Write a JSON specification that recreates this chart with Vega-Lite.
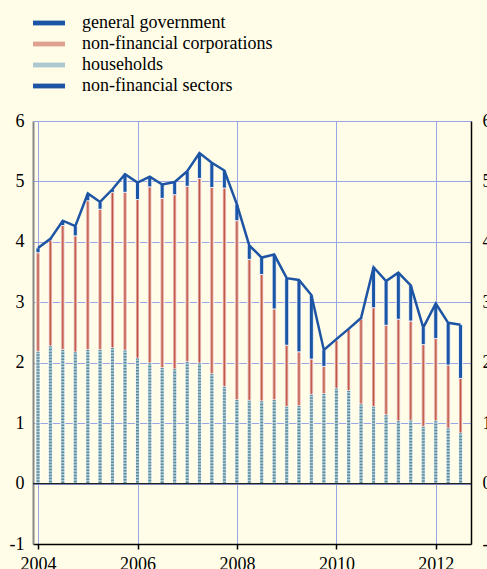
{
  "$schema": "https://vega.github.io/schema/vega-lite/v6.json",
  "width": 438,
  "height": 423,
  "autosize": {"type": "none"},
  "padding": {"left": 33, "top": 121, "right": 16, "bottom": 25},
  "background": "#fffde7",
  "config": {
    "view": {"stroke": null},
    "font": "'Liberation Serif', 'Times New Roman', serif",
    "axis": {"labelFont": "'Liberation Serif', 'Times New Roman', serif", "labelFontSize": 18, "labelColor": "#000"},
    "legend": {"labelFont": "'Liberation Serif', 'Times New Roman', serif", "labelFontSize": 18, "labelColor": "#000", "labelLimit": 0}
  },
  "data": {
    "values": [
      {"date": "2004-01-01", "households": 2.19, "nfc_top": 3.82, "total": 3.90},
      {"date": "2004-04-01", "households": 2.28, "nfc_top": 4.03, "total": 4.05},
      {"date": "2004-07-01", "households": 2.22, "nfc_top": 4.27, "total": 4.35},
      {"date": "2004-10-01", "households": 2.18, "nfc_top": 4.10, "total": 4.26},
      {"date": "2005-01-01", "households": 2.22, "nfc_top": 4.68, "total": 4.80},
      {"date": "2005-04-01", "households": 2.22, "nfc_top": 4.54, "total": 4.66},
      {"date": "2005-07-01", "households": 2.25, "nfc_top": 4.82, "total": 4.87},
      {"date": "2005-10-01", "households": 2.21, "nfc_top": 4.82, "total": 5.12},
      {"date": "2006-01-01", "households": 2.08, "nfc_top": 4.70, "total": 4.98},
      {"date": "2006-04-01", "households": 2.00, "nfc_top": 4.91, "total": 5.08},
      {"date": "2006-07-01", "households": 1.92, "nfc_top": 4.72, "total": 4.95},
      {"date": "2006-10-01", "households": 1.90, "nfc_top": 4.78, "total": 4.99},
      {"date": "2007-01-01", "households": 2.02, "nfc_top": 4.92, "total": 5.17},
      {"date": "2007-04-01", "households": 2.00, "nfc_top": 5.05, "total": 5.47},
      {"date": "2007-07-01", "households": 1.82, "nfc_top": 4.90, "total": 5.31},
      {"date": "2007-10-01", "households": 1.61, "nfc_top": 4.89, "total": 5.18},
      {"date": "2008-01-01", "households": 1.39, "nfc_top": 4.35, "total": 4.62},
      {"date": "2008-04-01", "households": 1.38, "nfc_top": 3.71, "total": 3.94},
      {"date": "2008-07-01", "households": 1.37, "nfc_top": 3.46, "total": 3.74},
      {"date": "2008-10-01", "households": 1.39, "nfc_top": 2.89, "total": 3.79},
      {"date": "2009-01-01", "households": 1.28, "nfc_top": 2.29, "total": 3.40},
      {"date": "2009-04-01", "households": 1.29, "nfc_top": 2.18, "total": 3.37},
      {"date": "2009-07-01", "households": 1.48, "nfc_top": 2.06, "total": 3.12},
      {"date": "2009-10-01", "households": 1.49, "nfc_top": 1.94, "total": 2.21},
      {"date": "2010-01-01", "households": 1.58, "nfc_top": 2.37, "total": 2.39},
      {"date": "2010-04-01", "households": 1.54, "nfc_top": 2.55, "total": 2.56},
      {"date": "2010-07-01", "households": 1.32, "nfc_top": 2.72, "total": 2.74},
      {"date": "2010-10-01", "households": 1.28, "nfc_top": 2.91, "total": 3.58},
      {"date": "2011-01-01", "households": 1.14, "nfc_top": 2.62, "total": 3.35},
      {"date": "2011-04-01", "households": 1.04, "nfc_top": 2.72, "total": 3.49},
      {"date": "2011-07-01", "households": 1.05, "nfc_top": 2.69, "total": 3.28},
      {"date": "2011-10-01", "households": 0.95, "nfc_top": 2.30, "total": 2.58},
      {"date": "2012-01-01", "households": 1.04, "nfc_top": 2.40, "total": 2.98},
      {"date": "2012-04-01", "households": 0.92, "nfc_top": 1.96, "total": 2.66},
      {"date": "2012-07-01", "households": 0.84, "nfc_top": 1.74, "total": 2.63}
    ]
  },
  "layer": [
    {
      "mark": {"type": "bar", "size": 4, "stroke": "white", "strokeWidth": 0.8},
      "encoding": {
        "x": {"field": "date", "type": "temporal",
          "scale": {"type": "utc", "domain": [{"year": 2004, "month": 1, "date": 1, "utc": true}, {"year": 2012, "month": 8, "date": 10, "utc": true}]},
          "axis": {"title": null, "orient": "bottom",
            "values": [{"year": 2004, "utc": true}, {"year": 2006, "utc": true}, {"year": 2008, "utc": true}, {"year": 2010, "utc": true}, {"year": 2012, "utc": true}],
            "format": "%Y", "domainColor": "#000", "domainWidth": 1.5, "tickColor": "#000", "tickWidth": 1.5, "tickSize": 5,
            "labelPadding": 6, "labelFlush": false, "labelOverlap": false, "grid": true, "gridColor": "#98a6e8", "gridWidth": 1}},
        "y": {"field": "households", "type": "quantitative",
          "scale": {"domain": [-1, 6], "nice": false, "zero": false},
          "axis": {"title": null, "orient": "left", "values": [-1, 0, 1, 2, 3, 4, 5, 6],
            "labelExpr": "replace(datum.label, '\u2212', '-')",
            "domainColor": "#888", "domainWidth": 2, "ticks": false, "labelPadding": 9,
            "grid": true, "gridColor": "#98a6e8", "gridWidth": 1}},
        "y2": {"datum": 0},
        "color": {"datum": "households",
          "scale": {"domain": ["general government", "non-financial corporations", "households", "non-financial sectors"],
            "range": ["#1a55a6", "#dfa291", "#adc8d1", "#1e54a4"]},
          "legend": {"title": null, "orient": "none", "legendX": 7, "legendY": -107,
            "symbolType": "M-2,-0.3H2V0.3H-2Z", "symbolSize": 256, "symbolStrokeWidth": 0,
            "labelOffset": 24, "rowPadding": 3, "padding": 0,
            "encode": {"symbols": {"update": {"fill": {"scale": "color", "field": "value"}, "stroke": {"value": "transparent"}, "opacity": {"value": 1}}}}}}
      }
    },
    {
      "mark": {"type": "rule", "color": "#5d8fa0", "strokeWidth": 3, "strokeDash": [1.5, 1.5]},
      "encoding": {
        "x": {"field": "date", "type": "temporal",
          "scale": {"type": "utc", "domain": [{"year": 2004, "month": 1, "date": 1, "utc": true}, {"year": 2012, "month": 8, "date": 10, "utc": true}]},
          "axis": {"title": null, "orient": "bottom",
            "values": [{"year": 2004, "utc": true}, {"year": 2006, "utc": true}, {"year": 2008, "utc": true}, {"year": 2010, "utc": true}, {"year": 2012, "utc": true}],
            "format": "%Y", "domainColor": "#000", "domainWidth": 1.5, "tickColor": "#000", "tickWidth": 1.5, "tickSize": 5,
            "labelPadding": 6, "labelFlush": false, "labelOverlap": false, "grid": true, "gridColor": "#98a6e8", "gridWidth": 1}},
        "y": {"field": "households", "type": "quantitative", "scale": {"domain": [-1, 6], "nice": false, "zero": false}, "axis": null},
        "y2": {"datum": 0}
      }
    },
    {
      "mark": {"type": "bar", "size": 4, "stroke": "white", "strokeWidth": 0.8},
      "encoding": {
        "x": {"field": "date", "type": "temporal",
          "scale": {"type": "utc", "domain": [{"year": 2004, "month": 1, "date": 1, "utc": true}, {"year": 2012, "month": 8, "date": 10, "utc": true}]},
          "axis": {"title": null, "orient": "bottom",
            "values": [{"year": 2004, "utc": true}, {"year": 2006, "utc": true}, {"year": 2008, "utc": true}, {"year": 2010, "utc": true}, {"year": 2012, "utc": true}],
            "format": "%Y", "domainColor": "#000", "domainWidth": 1.5, "tickColor": "#000", "tickWidth": 1.5, "tickSize": 5,
            "labelPadding": 6, "labelFlush": false, "labelOverlap": false, "grid": true, "gridColor": "#98a6e8", "gridWidth": 1}},
        "y": {"field": "households", "type": "quantitative", "scale": {"domain": [-1, 6], "nice": false, "zero": false}, "axis": null},
        "y2": {"field": "nfc_top"},
        "color": {"datum": "non-financial corporations",
          "scale": {"domain": ["general government", "non-financial corporations", "households", "non-financial sectors"],
            "range": ["#1a55a6", "#dfa291", "#adc8d1", "#1e54a4"]},
          "legend": null}
      }
    },
    {
      "mark": {"type": "rule", "color": "#b8453a", "strokeWidth": 0.9},
      "encoding": {
        "x": {"field": "date", "type": "temporal",
          "scale": {"type": "utc", "domain": [{"year": 2004, "month": 1, "date": 1, "utc": true}, {"year": 2012, "month": 8, "date": 10, "utc": true}]},
          "axis": {"title": null, "orient": "bottom",
            "values": [{"year": 2004, "utc": true}, {"year": 2006, "utc": true}, {"year": 2008, "utc": true}, {"year": 2010, "utc": true}, {"year": 2012, "utc": true}],
            "format": "%Y", "domainColor": "#000", "domainWidth": 1.5, "tickColor": "#000", "tickWidth": 1.5, "tickSize": 5,
            "labelPadding": 6, "labelFlush": false, "labelOverlap": false, "grid": true, "gridColor": "#98a6e8", "gridWidth": 1}},
        "y": {"field": "households", "type": "quantitative", "scale": {"domain": [-1, 6], "nice": false, "zero": false}, "axis": null},
        "y2": {"field": "nfc_top"}
      }
    },
    {
      "mark": {"type": "bar", "size": 4, "stroke": "white", "strokeWidth": 0.8},
      "encoding": {
        "x": {"field": "date", "type": "temporal",
          "scale": {"type": "utc", "domain": [{"year": 2004, "month": 1, "date": 1, "utc": true}, {"year": 2012, "month": 8, "date": 10, "utc": true}]},
          "axis": {"title": null, "orient": "bottom",
            "values": [{"year": 2004, "utc": true}, {"year": 2006, "utc": true}, {"year": 2008, "utc": true}, {"year": 2010, "utc": true}, {"year": 2012, "utc": true}],
            "format": "%Y", "domainColor": "#000", "domainWidth": 1.5, "tickColor": "#000", "tickWidth": 1.5, "tickSize": 5,
            "labelPadding": 6, "labelFlush": false, "labelOverlap": false, "grid": true, "gridColor": "#98a6e8", "gridWidth": 1}},
        "y": {"field": "nfc_top", "type": "quantitative", "scale": {"domain": [-1, 6], "nice": false, "zero": false}, "axis": null},
        "y2": {"field": "total"},
        "color": {"datum": "general government",
          "scale": {"domain": ["general government", "non-financial corporations", "households", "non-financial sectors"],
            "range": ["#1a55a6", "#dfa291", "#adc8d1", "#1e54a4"]},
          "legend": null}
      }
    },
    {
      "data": {"values": [{"v": 0}]},
      "mark": {"type": "rule", "color": "#222", "strokeWidth": 1.2},
      "encoding": {
        "y": {"field": "v", "type": "quantitative", "scale": {"domain": [-1, 6], "nice": false, "zero": false}, "axis": null}
      }
    },
    {
      "mark": {"type": "line", "strokeWidth": 2.5, "strokeJoin": "miter"},
      "encoding": {
        "x": {"field": "date", "type": "temporal",
          "scale": {"type": "utc", "domain": [{"year": 2004, "month": 1, "date": 1, "utc": true}, {"year": 2012, "month": 8, "date": 10, "utc": true}]},
          "axis": {"title": null, "orient": "bottom",
            "values": [{"year": 2004, "utc": true}, {"year": 2006, "utc": true}, {"year": 2008, "utc": true}, {"year": 2010, "utc": true}, {"year": 2012, "utc": true}],
            "format": "%Y", "domainColor": "#000", "domainWidth": 1.5, "tickColor": "#000", "tickWidth": 1.5, "tickSize": 5,
            "labelPadding": 6, "labelFlush": false, "labelOverlap": false, "grid": true, "gridColor": "#98a6e8", "gridWidth": 1}},
        "y": {"field": "total", "type": "quantitative",
          "scale": {"domain": [-1, 6], "nice": false, "zero": false},
          "axis": {"title": null, "orient": "right", "values": [-1, 0, 1, 2, 3, 4, 5, 6],
            "labelExpr": "replace(datum.label, '\u2212', '-')",
            "domainColor": "#000", "domainWidth": 1.5, "ticks": false, "labelPadding": 11, "grid": false}},
        "color": {"datum": "non-financial sectors",
          "scale": {"domain": ["general government", "non-financial corporations", "households", "non-financial sectors"],
            "range": ["#1a55a6", "#dfa291", "#adc8d1", "#1e54a4"]},
          "legend": null}
      }
    }
  ],
  "resolve": {"axis": {"y": "independent"}}
}
